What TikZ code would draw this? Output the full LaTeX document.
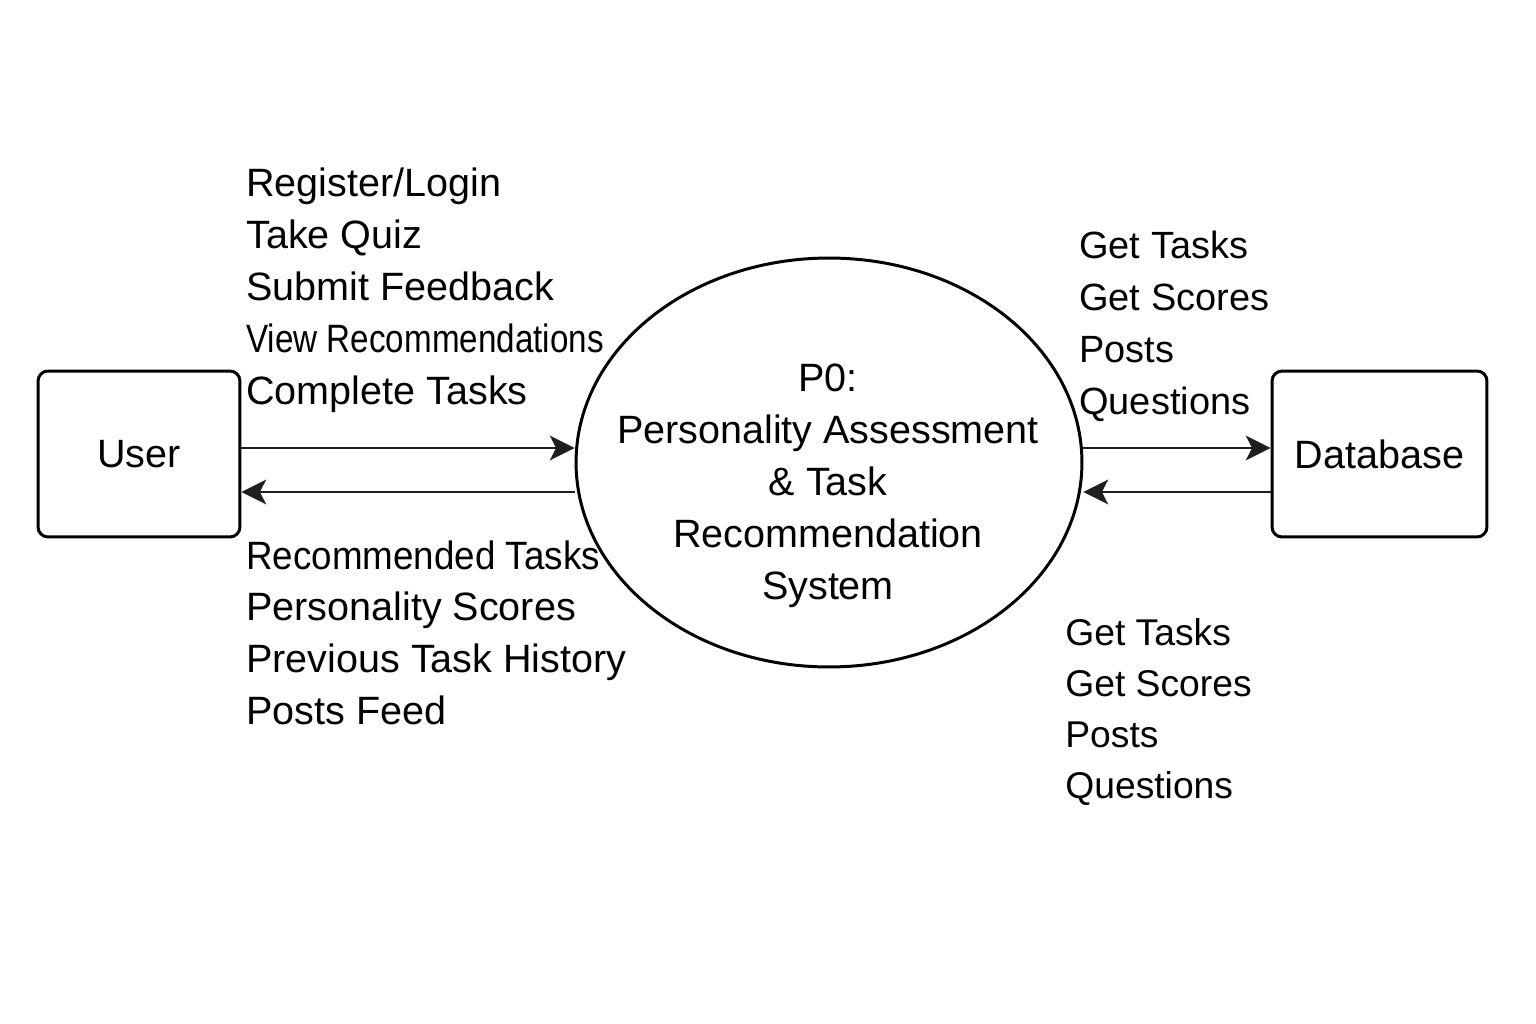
\documentclass[tikz,border=0pt]{standalone}
\usepackage{fontspec}
\setmainfont{Liberation Sans}
\usetikzlibrary{shapes.geometric,arrows.meta}

\begin{document}
\begin{tikzpicture}[x=0.02cm,y=-0.02cm,
    entity/.style={draw,rounded corners=0.2cm,line width=1.7pt,inner sep=0pt,
      minimum height=3.32cm,font=\fontsize{22.5}{29.5}\selectfont},
    process/.style={draw,ellipse,line width=1.7pt,inner sep=0pt,
      minimum width=10.12cm,minimum height=8.18cm},
    flow/.style={line width=1.7pt,draw=black!88,
      -{Stealth[length=14pt,width=14pt,inset=3.5pt]}},
    lbl/.style={font=\fontsize{22.5}{29.5}\selectfont,align=left,inner sep=0pt,anchor=north west},
  ]
  \useasboundingbox (0,0) rectangle (1536,1024);
  \draw
    (139,454) node[entity,minimum width=4.04cm] (user){User}
    (829,462.5) node[process] (p0){}
    (1379.5,454) node[entity,minimum width=4.3cm] (db){Database};
  \node[lbl,anchor=north,align=center] (p0text) at (828,364)
    {P0:\\Personality Assessment\\\& Task\\Recommendation\\System};
  \begin{scope}[flow]
    \draw ([yshift=0.12cm]user.east) to ([yshift=0.12cm]user.east -| p0.west);
    \draw ([yshift=-0.76cm]user.east -| p0.west) to ([yshift=-0.76cm]user.east);
    \draw ([yshift=0.12cm]db.west -| p0.east) to ([yshift=0.12cm]db.west);
    \draw ([yshift=-0.76cm]db.west) to ([yshift=-0.76cm]db.west -| p0.east);
  \end{scope}
  % flow labels
  \node[lbl] (userin) at (246,168)
    {Register/Login\\Take Quiz\\Submit Feedback\\\scalebox{0.84}[1]{View Recommendations}\\Complete Tasks};
  \node[lbl] (userout) at (246,540)
    {\scalebox{0.93}[1]{Recommended Tasks}\\Personality Scores\\Previous Task History\\Posts Feed};
  \node[lbl,font=\fontsize{21.6}{29.5}\selectfont] (dbin) at (1079,231)
    {Get Tasks\\Get Scores\\Posts\\Questions};
  \node[lbl,font=\fontsize{21.2}{29}\selectfont] (dbout) at (1065,618)
    {Get Tasks\\Get Scores\\Posts\\Questions};
\end{tikzpicture}
\end{document}
